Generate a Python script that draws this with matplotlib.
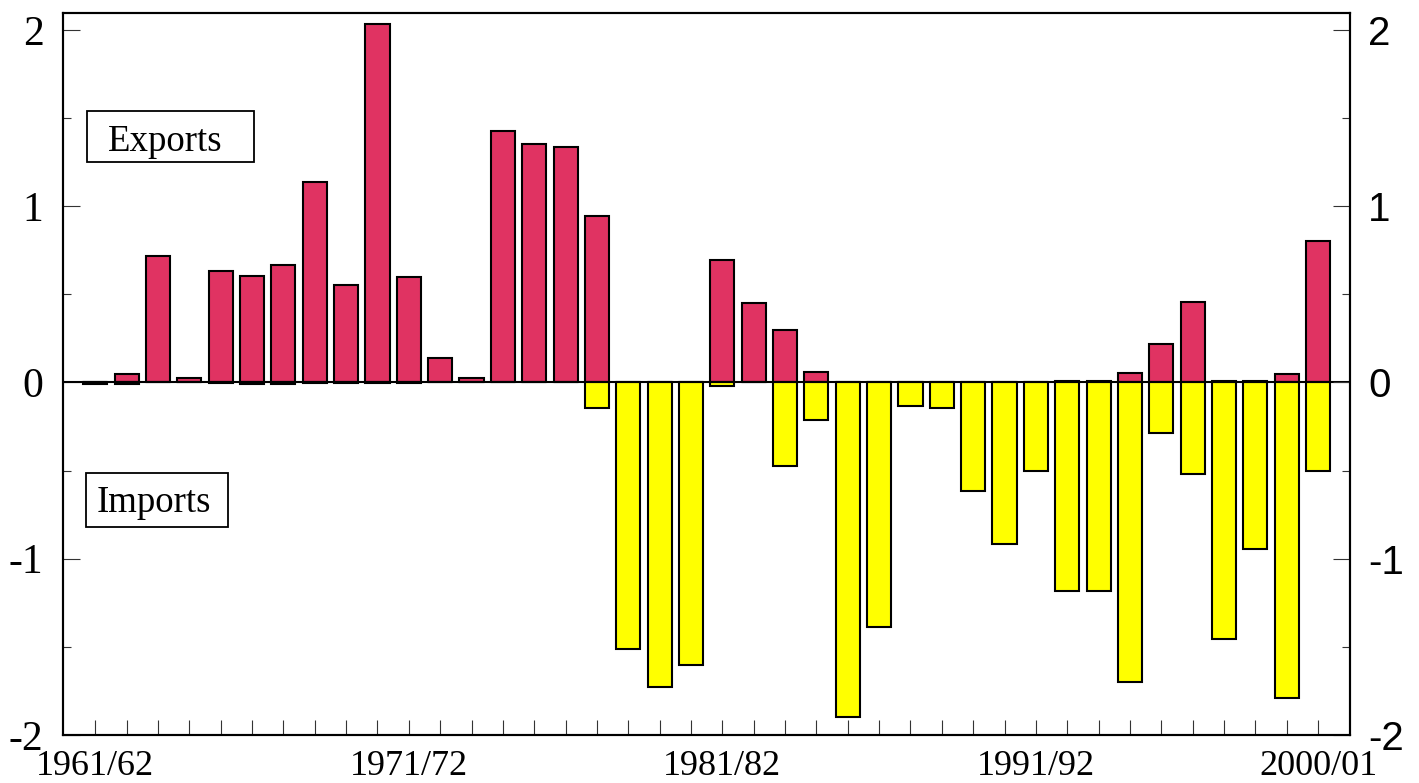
import matplotlib

matplotlib.use('Agg')
import matplotlib.pyplot as plt
from matplotlib.patches import Rectangle

# 年度ラベル（1961/62 〜 2000/01）
years = ['%d/%02d' % (y, (y + 1) % 100) for y in range(1961, 2001)]

exports = [0.0, 0.05, 0.716, 0.027, 0.633, 0.603, 0.667, 1.136, 0.554, 2.035,
           0.596, 0.138, 0.027, 1.424, 1.352, 1.337, 0.947, 0.0, 0.0, 0.0,
           0.696, 0.452, 0.299, 0.057, 0.0, 0.0, 0.0, 0.0, 0.0, 0.0,
           0.0, 0.01, 0.006, 0.055, 0.22, 0.458, 0.006, 0.011, 0.049, 0.80]

imports = [-0.01, -0.01, 0.0, 0.0, -0.005, -0.01, -0.01, -0.005, -0.005, -0.005,
           -0.005, 0.0, 0.0, 0.0, 0.0, 0.0, -0.145, -1.51, -1.727, -1.602,
           -0.02, 0.0, -0.473, -0.213, -1.90, -1.386, -0.135, -0.145, -0.618, -0.915,
           -0.503, -1.184, -1.184, -1.697, -0.287, -0.518, -1.454, -0.943, -1.79, -0.50]

labelled = ['1961/62', '1971/72', '1981/82', '1991/92', '2000/01']

serif = 'Liberation Serif'
sans = 'Liberation Sans'

fig = plt.figure(figsize=(14.19, 7.83), dpi=100)
ax = fig.add_axes([0.0444, 0.0613, 0.907, 0.9221])

x = list(range(len(years)))
ax.bar(x, exports, width=0.77, color='#E03362', edgecolor='black', linewidth=1.5, zorder=2)
ax.bar(x, imports, width=0.77, color='#FFFF00', edgecolor='black', linewidth=1.5, zorder=2)
ax.axhline(0, color='black', linewidth=1.5, zorder=3)

ax.set_xlim(-1.03, 40.02)
ax.set_ylim(-2, 2.096)

# X 軸: 全ての年に目盛り、ラベルは一部のみ
ax.set_xticks(x)
ax.set_xticklabels([y if y in labelled else '' for y in years], fontfamily=serif, fontsize=26)
ax.tick_params(axis='x', direction='in', length=11, width=0.8, pad=11, color='#333333')

# 左 Y 軸 (serif)
ax.set_yticks([-2, -1, 0, 1, 2])
ax.set_yticklabels(['-2', '-1', '0', '1', '2'], fontfamily=serif, fontsize=30)
ax.set_yticks([-1.5, -0.5, 0.5, 1.5], minor=True)
ax.tick_params(axis='y', which='major', direction='in', length=12, width=0.8, pad=14, color='#333333')
ax.tick_params(axis='y', which='minor', direction='in', length=6, width=0.8, color='#333333')

# 右 Y 軸 (sans)
ax2 = ax.twinx()
ax2.set_ylim(ax.get_ylim())
ax2.set_yticks([-2, -1, 0, 1, 2])
ax2.set_yticklabels(['-2', '-1', '0', '1', '2'], fontfamily=sans, fontsize=29)
ax2.set_yticks([-1.5, -0.5, 0.5, 1.5], minor=True)
ax2.tick_params(axis='y', which='major', direction='in', length=12, width=0.8, pad=13, color='#333333')
ax2.tick_params(axis='y', which='minor', direction='in', length=6, width=0.8, color='#333333')

for a in (ax, ax2):
    for s in a.spines.values():
        s.set_linewidth(1.5)

# 凡例代わりの枠付きテキスト
ax.add_patch(Rectangle((0.0184, 0.794), 0.130, 0.070, transform=ax.transAxes,
                       facecolor='white', edgecolor='black', linewidth=1.3, zorder=4))
ax.text(0.0795, 0.822, 'Exports', transform=ax.transAxes, ha='center', va='center',
        fontfamily=serif, fontsize=26.5, zorder=5)
ax.add_patch(Rectangle((0.0176, 0.288), 0.1107, 0.075, transform=ax.transAxes,
                       facecolor='white', edgecolor='black', linewidth=1.3, zorder=4))
ax.text(0.0707, 0.322, 'Imports', transform=ax.transAxes, ha='center', va='center',
        fontfamily=serif, fontsize=26.5, zorder=5)

plt.savefig('out.png', dpi=100)
